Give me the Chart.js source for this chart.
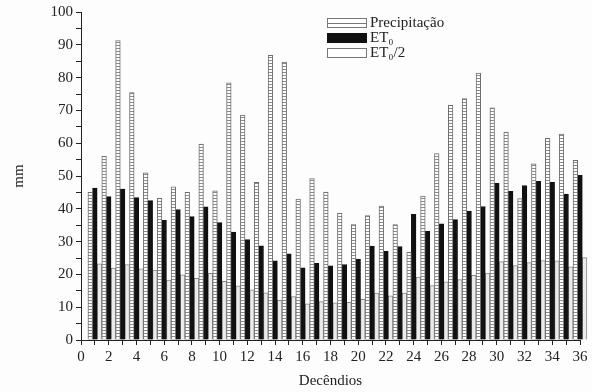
<!DOCTYPE html>
<html>
<head>
<meta charset="utf-8">
<script src="https://cdn.jsdelivr.net/npm/chart.js@4.4.1/dist/chart.umd.min.js"></script>
<style>
  html, body { margin: 0; padding: 0; background: #fdfdfd; }
  #wrap { position: relative; width: 592px; height: 392px; }
</style>
</head>
<body>
<div id="wrap"><canvas id="chart" width="592" height="392"></canvas></div>
<script>
// decêndios 1..36
const decendios = [1, 2, 3, 4, 5, 6, 7, 8, 9, 10, 11, 12, 13, 14, 15, 16, 17, 18,
                   19, 20, 21, 22, 23, 24, 25, 26, 27, 28, 29, 30, 31, 32, 33, 34, 35, 36];
const precipitacao = [45, 56, 91.3, 75.4, 51, 43.2, 46.7, 45, 59.7, 45.5, 78.4, 68.6,
                      48.1, 86.8, 84.7, 43, 49.2, 45.1, 38.6, 35.2, 37.9, 40.8, 35.2, 26.7,
                      43.9, 56.8, 71.6, 73.6, 81.4, 70.8, 63.4, 43.1, 53.7, 61.5, 62.8, 54.8];
const et0 = [46.3, 43.7, 46, 43.4, 42.5, 36.5, 39.8, 37.6, 40.6, 35.8, 32.9, 30.6,
             28.7, 24.1, 26.3, 22, 23.4, 22.6, 23, 24.7, 28.6, 27, 28.5, 38.3,
             33.1, 35.4, 36.7, 39.3, 40.7, 47.8, 45.3, 47.1, 48.4, 48.1, 44.5, 50.2];
const et0Metade = [23.2, 21.9, 23, 21.7, 21.3, 18.3, 19.9, 18.8, 20.3, 17.9, 16.5, 15.3,
                   14.4, 12.1, 13.2, 11, 11.7, 11.3, 11.5, 12.4, 14.3, 13.5, 14.3, 19.2,
                   16.6, 17.7, 18.4, 19.7, 20.4, 23.9, 22.7, 23.6, 24.2, 24.1, 22.3, 25.1];
const seriesNames = ['Precipitação', 'ET\u2080', 'ET\u2080/2'];

const FONT = 'Liberation Serif, Times New Roman, serif';
const AXIS = '#222';

function ladderPattern() {
    const c = document.createElement('canvas');
    c.width = 4; c.height = 3;
    const g = c.getContext('2d');
    g.fillStyle = '#ffffff';
    g.fillRect(0, 0, 4, 3);
    g.fillStyle = '#8c8c8c';
    g.fillRect(0, 0, 4, 1);
    return g.createPattern(c, 'repeat');
}

const pts = arr => decendios.map((d, i) => ({ x: d, y: arr[i] }));

// legend drawn inside the plot, like the original
const innerLegend = {
    id: 'innerLegend',
    afterDraw(chart) {
        const ctx = chart.ctx;
        const x0 = 327, w = 40, h = 10;
        const rows = [18, 33, 48];
        ctx.save();
        ctx.lineWidth = 1;
        rows.forEach((y, i) => {
            if (i === 1) {
                ctx.fillStyle = '#111';
                ctx.fillRect(x0, y, w, h);
            } else {
                ctx.fillStyle = '#fff';
                ctx.fillRect(x0, y, w, h);
                ctx.strokeStyle = '#777';
                ctx.strokeRect(x0 + 0.5, y + 0.5, w - 1, h - 1);
                if (i === 0) {
                    ctx.beginPath();
                    ctx.moveTo(x0, y + 5.5);
                    ctx.lineTo(x0 + w, y + 5.5);
                    ctx.stroke();
                }
            }
            ctx.fillStyle = '#222';
            ctx.font = '15px ' + FONT;
            ctx.textBaseline = 'middle';
            ctx.fillText(seriesNames[i], x0 + 43, y + 5);
        });
        ctx.restore();
    }
};

const clipBox = { left: 10, right: 12, top: 0, bottom: 0 };

new Chart(document.getElementById('chart'), {
    type: 'bar',
    data: {
        datasets: [{
            label: seriesNames[0],
            data: pts(precipitacao),
            backgroundColor: ladderPattern(),
            borderColor: '#6e6e6e',
            borderWidth: 1,
            clip: clipBox
        }, {
            label: seriesNames[1],
            data: pts(et0),
            backgroundColor: '#111',
            borderColor: '#111',
            borderWidth: 1,
            clip: clipBox
        }, {
            label: seriesNames[2],
            data: pts(et0Metade),
            backgroundColor: '#ebebeb',
            borderColor: '#888',
            borderWidth: 1,
            clip: clipBox
        }]
    },
    options: {
        responsive: false,
        animation: false,
        devicePixelRatio: 1,
        categoryPercentage: 1,
        barPercentage: 1,
        layout: { padding: { top: 12, right: 12, bottom: 2, left: 4 } },
        plugins: {
            legend: { display: false },
            tooltip: { enabled: false }
        },
        scales: {
            x: {
                type: 'linear',
                min: 0,
                max: 36,
                offset: false,
                afterFit: s => { s.height = 50; },
                grid: { offset: false, drawOnChartArea: false, drawTicks: true, tickLength: 5, color: AXIS },
                border: { display: true, color: AXIS, width: 1 },
                ticks: {
                    stepSize: 1,
                    autoSkip: false,
                    maxRotation: 0,
                    color: '#222',
                    font: { family: FONT, size: 15 },
                    padding: 3,
                    callback: v => (v % 2 === 0 ? v : '')
                },
                title: {
                    display: true,
                    text: 'Decêndios',
                    color: '#222',
                    font: { family: FONT, size: 15 },
                    padding: { top: 6, bottom: 0 }
                }
            },
            y: {
                min: 0,
                max: 100,
                afterFit: s => { s.width = 77; },
                grid: { drawOnChartArea: false, drawTicks: true, tickLength: 5, color: AXIS },
                border: { display: true, color: AXIS, width: 1 },
                ticks: {
                    stepSize: 5,
                    autoSkip: false,
                    color: '#222',
                    font: { family: FONT, size: 15 },
                    padding: 3,
                    callback: v => (v % 10 === 0 ? v : '')
                },
                title: {
                    display: true,
                    text: 'mm',
                    color: '#222',
                    font: { family: FONT, size: 15 },
                    padding: { top: 6, bottom: 0 }
                }
            }
        }
    },
    plugins: [innerLegend]
});
</script>
</body>
</html>
